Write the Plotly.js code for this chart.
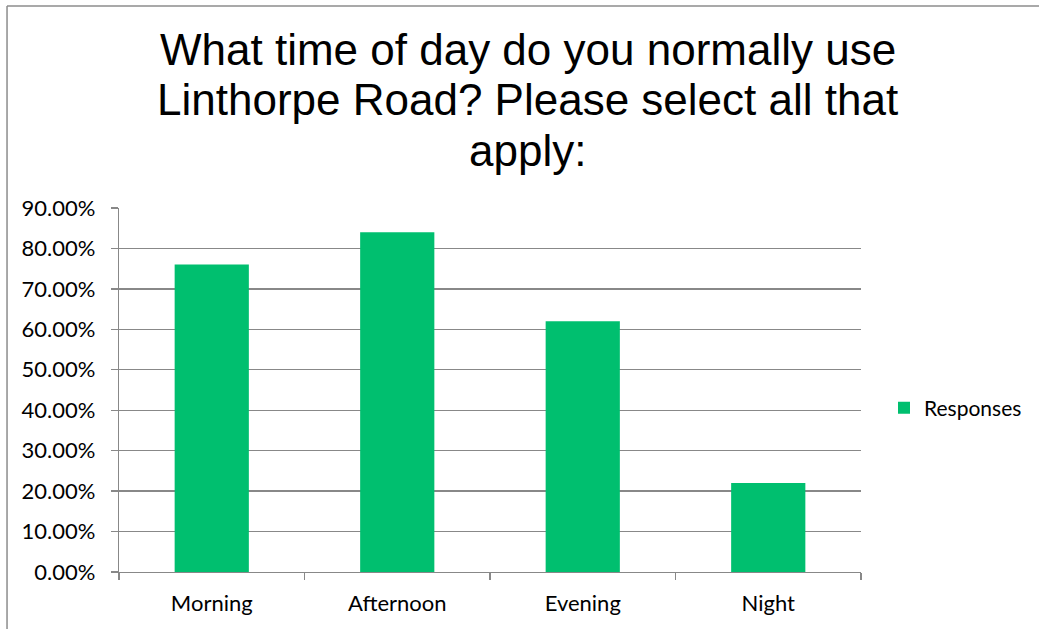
<!DOCTYPE html>
<html>
<head>
<meta charset="utf-8">
<script src="https://cdn.plot.ly/plotly-3.0.1.min.js"></script>
<style>html,body{margin:0;padding:0;background:#fff;}#chart{width:1039px;height:629px;}</style>
</head>
<body>
<div id="chart"></div>
<script>
const categories = ["Morning", "Afternoon", "Evening", "Night"];
const responses = [0.76, 0.84, 0.62, 0.22];
const seriesName = "Responses";
const titleLines = ["What time of day do you normally use", "Linthorpe Road? Please select all that", "apply:"];

const gridColor = "#888888";
const tickFont = {family: "Lato, 'Open Sans', sans-serif", size: 22, color: "#000"};
const legendFont = {family: "Lato, 'Open Sans', sans-serif", size: 21, color: "#000"};
const titleFont = {family: "'Liberation Sans', Arial, sans-serif", size: 44, color: "#000"};
const titleY = [1.4346, 1.2973, 1.1571];

const data = [{
  type: "bar",
  x: categories,
  y: responses,
  name: seriesName,
  marker: {color: "#00BF6F"},
  showlegend: true,
  hoverinfo: "none"
}];

const layout = {
  width: 1039,
  height: 629,
  margin: {l: 119, r: 178, t: 208, b: 57, pad: 0},
  paper_bgcolor: "#ffffff",
  plot_bgcolor: "#ffffff",
  bargap: 0.6,
  xaxis: {
    type: "category",
    showgrid: false,
    showline: true, linecolor: gridColor, linewidth: 1.3,
    ticks: "outside", tickson: "boundaries", ticklen: 7, tickcolor: gridColor, tickwidth: 1.3,
    tickfont: tickFont,
    ticklabelstandoff: 11,
    zeroline: false
  },
  yaxis: {
    range: [0, 0.9],
    dtick: 0.1,
    tick0: 0,
    tickformat: ".2%",
    showgrid: true, gridcolor: gridColor, gridwidth: 1.3,
    showline: true, linecolor: gridColor, linewidth: 1.3,
    ticks: "outside", ticklen: 7, tickcolor: gridColor, tickwidth: 1.3,
    tickfont: tickFont,
    ticklabelstandoff: 11,
    zeroline: false
  },
  legend: {
    x: 1.031, xanchor: "left",
    y: 0.45, yanchor: "middle",
    font: legendFont,
    bgcolor: "rgba(0,0,0,0)",
    itemwidth: 30
  },
  annotations: titleLines.map((t, i) => ({
    text: t, xref: "paper", yref: "paper",
    x: 0.5512, xanchor: "center", y: titleY[i], yanchor: "middle",
    showarrow: false, font: titleFont
  })),
  shapes: [
    {type: "line", xref: "paper", yref: "paper", x0: -0.1509, x1: -0.1509, y0: 1.5549, y1: -0.2, line: {color: "#8c8c8c", width: 1.5}},
    {type: "line", xref: "paper", yref: "paper", x0: -0.1509, x1: 1.25, y0: 1.5549, y1: 1.5549, line: {color: "#8c8c8c", width: 1.5}}
  ]
};

Plotly.newPlot("chart", data, layout, {displayModeBar: false, staticPlot: true});
</script>
</body>
</html>
